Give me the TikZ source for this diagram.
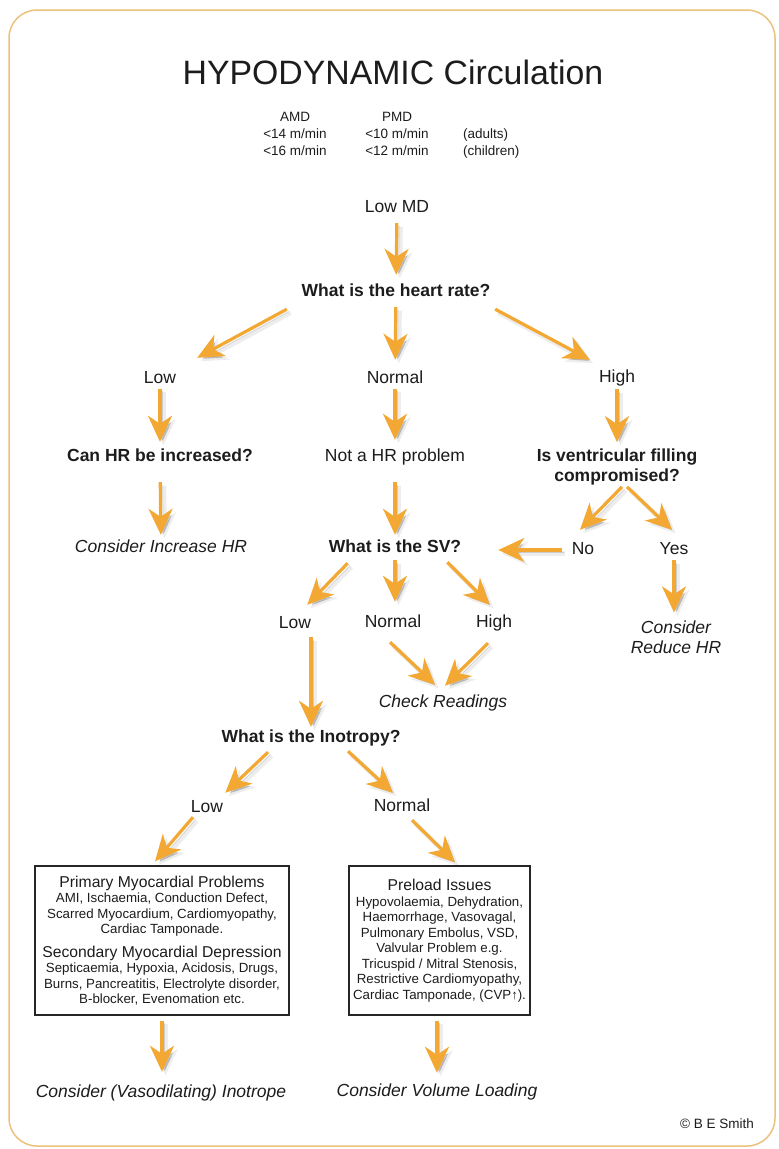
\documentclass[tikz,border=0pt]{standalone}
\usepackage{fontspec}
\setmainfont{Liberation Sans}
\usetikzlibrary{arrows.meta,calc}
\definecolor{arrorange}{RGB}{242,168,50}
\definecolor{frametan}{RGB}{236,192,125}
\definecolor{inkgray}{RGB}{28,28,28}

\begin{document}
\begin{tikzpicture}[x=1pt,y=-1pt,
    every node/.style={text=inkgray},
    lbl/.style={inner sep=0pt,text height=13pt,text depth=4pt,font=\fontsize{17.5}{20}\selectfont},
    qst/.style={lbl,font=\fontsize{17.5}{20}\selectfont\bfseries},
    act/.style={lbl,font=\fontsize{17.5}{20}\selectfont\itshape},
    mqst/.style={inner sep=0pt,align=center,font=\fontsize{17.5}{20}\selectfont\bfseries},
    mact/.style={inner sep=0pt,align=center,font=\fontsize{17.5}{20}\selectfont\itshape},
    small/.style={inner sep=0pt,text height=10pt,text depth=3pt,font=\fontsize{13.5}{16}\selectfont},
    infobox/.style={draw=black!85,line width=1.2pt,inner sep=0pt,align=center,
        font=\fontsize{13.3}{15.5}\selectfont},
    arr/.style={draw=arrorange,line width=3.2pt,
        -{Stealth[length=26pt,width=24pt,inset=8pt]},
        preaction={draw=black,opacity=.07,line width=5pt,transform canvas={shift={(3.5pt,-3.5pt)}}},
        preaction={draw=black,opacity=.14,transform canvas={shift={(2.5pt,-2.5pt)}}}}]
\useasboundingbox (0,0) rectangle (779,1149);
\draw[frametan,line width=1.5pt,rounded corners=28pt] (9,10) rectangle (775,1146);

% heading
\node[inner sep=0pt,font=\fontsize{33.8}{40}\selectfont] (title) at (393,72) {HYPODYNAMIC Circulation};
\node[small] (amd) at (295,118) {AMD};
\node[small] (pmd) at (397,118) {PMD};
\node[small] (amdad) at (295,135) {<14 m/min};
\node[small] (pmdad) at (397,135) {<10 m/min};
\node[small,anchor=west] (adults) at (463,135) {(adults)};
\node[small] (amdch) at (295,152) {<16 m/min};
\node[small] (pmdch) at (397,152) {<12 m/min};
\node[small,anchor=west] (children) at (463,152) {(children)};

% heart rate
\node[lbl] (lowmd) at (397,208) {Low MD};
\node[qst] (hrq) at (396,292) {What is the heart rate?};
\node[lbl] (hlow) at (160,379) {Low};
\node[lbl] (hnorm) at (395,379) {Normal};
\node[lbl] (hhigh) at (617,378) {High};
\node[qst] (canhr) at (160,457) {Can HR be increased?};
\node[lbl] (nothr) at (395,457) {Not a HR problem};
\node[mqst] (vent) at (617,466.5) {Is ventricular filling\\compromised?};
\node[act] (incr) at (161,548) {Consider Increase HR};
\node[qst] (svq) at (395,548) {What is the SV?};
\node[lbl] (no) at (583,550) {No};
\node[lbl] (yes) at (674,550) {Yes};
\node[mact] (reduce) at (676,637) {Consider\\Reduce HR};

% stroke volume
\node[lbl] (svlow) at (295,624) {Low};
\node[lbl] (svnorm) at (393,623) {Normal};
\node[lbl] (svhigh) at (494,623) {High};
\node[act] (check) at (443,703) {Check Readings};
\node[qst] (ino) at (311,738) {What is the Inotropy?};
\node[lbl] (ilow) at (207,808) {Low};
\node[lbl] (inorm) at (402,807) {Normal};

% causes
\node[infobox,minimum width=254pt,minimum height=149pt] (lbox) at (162,940.5) {%
    {\fontsize{15.7}{15.5}\selectfont Primary Myocardial Problems}\\
    AMI, Ischaemia, Conduction Defect,\\
    Scarred Myocardium, Cardiomyopathy,\\
    Cardiac Tamponade.\\[8pt]
    {\fontsize{15.7}{15.5}\selectfont Secondary Myocardial Depression}\\
    Septicaemia, Hypoxia, Acidosis, Drugs,\\
    Burns, Pancreatitis, Electrolyte disorder,\\
    B-blocker, Evenomation etc.};
\node[infobox,minimum width=181pt,minimum height=149pt] (rbox) at (439.5,940.5) {%
    {\fontsize{15.7}{15.5}\selectfont Preload Issues}\\
    Hypovolaemia, Dehydration,\\
    Haemorrhage, Vasovagal,\\
    Pulmonary Embolus, VSD,\\
    Valvular Problem e.g.\\
    Tricuspid / Mitral Stenosis,\\
    Restrictive Cardiomyopathy,\\
    Cardiac Tamponade, (CVP{\fontsize{13}{13}\selectfont↑}).};
\node[act] (vaso) at (161,1093) {Consider (Vasodilating) Inotrope};
\node[act] (vol) at (437,1092) {Consider Volume Loading};
\node[small] (copy) at (717,1125) {© B E Smith};

% arrows
\draw[arr,shorten <=6.5pt,shorten >=8.5pt] (lowmd) -- (hrq);
\draw[arr,shorten <=6.5pt,shorten >=10.5pt] (hrq) -- (hnorm);
\draw[arr] ([shift={(-14.7,8.5)}]hrq.south west) -- ([shift={(21,-12.5)}]hlow.north east);
\draw[arr] ([shift={(4.7,8.5)}]hrq.south east) -- ([shift={(-9,-9.5)}]hhigh.north west);
\draw[arr,shorten <=1pt,shorten >=6.5pt] (hlow) -- (canhr);
\draw[arr,shorten <=1pt,shorten >=8.5pt] (hnorm) -- (nothr);
\draw[arr,shorten <=2.5pt,shorten >=6pt] (hhigh) -- (vent);
\draw[arr,shorten <=16.5pt,shorten >=4.5pt] (canhr) -- (incr);
\draw[arr,shorten <=16.5pt,shorten >=4.5pt] (nothr) -- (svq);
\draw[arr] ([shift={(5,2)}]vent.south) -- ([shift={(-3,-11.5)}]no.north);
\draw[arr] ([shift={(10,2)}]vent.south) -- ([shift={(-2,-11.5)}]yes.north);
\draw[arr,shorten <=10pt,shorten >=37pt] (no.west) -- (no.west -| svq.east);
\draw[arr,shorten <=1.5pt,shorten >=8pt] (yes.south) -- (yes.south |- reduce.north);
\draw[arr] ([shift={(19,6.5)}]svq.south west) -- ([shift={(-4,-10.5)}]svlow.north east);
\draw[arr,shorten <=3.5pt,shorten >=12.5pt] (svq.south) -- (svq.south |- svnorm.north);
\draw[arr] ([shift={(-14,5.5)}]svq.south east) -- ([shift={(14,-9.5)}]svhigh.north west);
\draw[arr] ([shift={(-3,10.5)}]svnorm.south) -- ([shift={(-8,-9.5)}]check.north);
\draw[arr] ([shift={(-6,11.5)}]svhigh.south) -- ([shift={(2,-8.5)}]check.north);
\draw[arr,shorten <=4.5pt,shorten >=2.5pt] (svlow.south -| ino.north) -- (ino.north);
\draw[arr] ([shift={(-43,5.5)}]ino.south) -- ([shift={(2,-6.5)}]ilow.north east);
\draw[arr] ([shift={(37,4.5)}]ino.south) -- ([shift={(-9,-5.5)}]inorm.north);
\draw[arr] ([shift={(-14,0.5)}]ilow.south) -- ([shift={(-7,-4)}]lbox.north);
\draw[arr] ([shift={(10,4.5)}]inorm.south) -- ([shift={(15.5,-3)}]rbox.north);
\draw[arr,shorten <=5pt,shorten >=12.5pt] (lbox.south) -- (lbox.south |- vaso.north);
\draw[arr,shorten <=5pt,shorten >=10.5pt] (vol.north |- rbox.south) -- (vol.north);
\end{tikzpicture}
\end{document}
